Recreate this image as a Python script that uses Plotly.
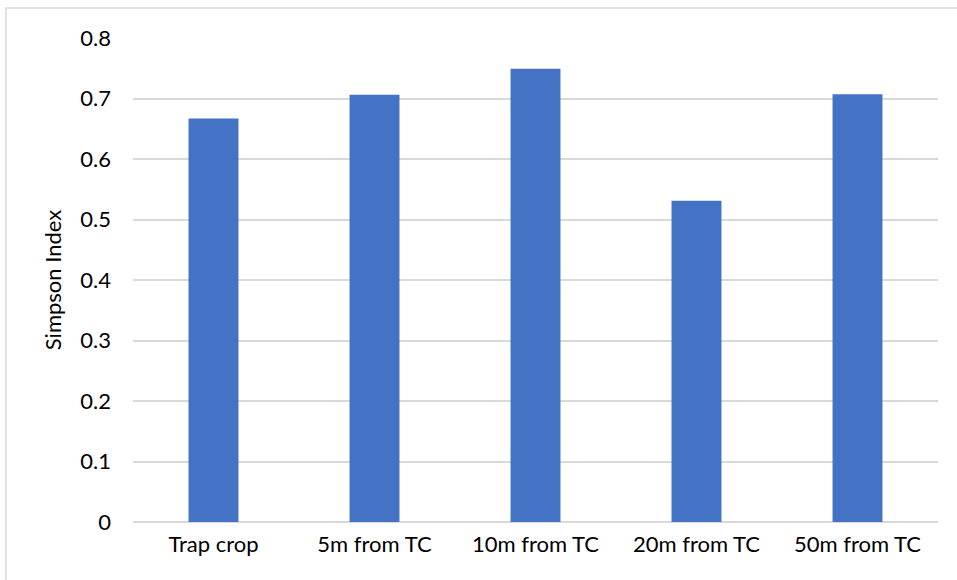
import plotly.graph_objects as go

categories = ["Trap crop", "5m from TC", "10m from TC", "20m from TC", "50m from TC"]
simpson_index = [0.667, 0.706, 0.749, 0.531, 0.707]
y_ticks = [0, 0.1, 0.2, 0.3, 0.4, 0.5, 0.6, 0.7, 0.8]
y_tick_labels = ["0", "0.1", "0.2", "0.3", "0.4", "0.5", "0.6", "0.7", "0.8"]

FONT = "Lato, 'Open Sans', sans-serif"
GRID = "#d9d9d9"
SIZE = 22

fig = go.Figure(
    go.Bar(
        x=categories,
        y=simpson_index,
        marker=dict(color="#4472C4", line=dict(width=0)),
    )
)

fig.update_layout(
    width=957,
    height=580,
    margin=dict(l=133, r=19, t=38, b=58),
    paper_bgcolor="white",
    plot_bgcolor="white",
    bargap=0.69,
    showlegend=False,
    font=dict(family=FONT, size=SIZE, color="#000000"),
    shapes=[
        # light frame around the whole chart
        dict(
            type="rect", xref="paper", yref="paper",
            x0=-0.1578, x1=1.05, y0=-0.16, y1=1.062,
            line=dict(color=GRID, width=1.5), layer="below",
        )
    ],
)

fig.update_xaxes(
    showgrid=False,
    showline=False,
    ticks="",
    ticklabelstandoff=7,
    tickfont=dict(family=FONT, size=SIZE),
)

fig.update_yaxes(
    range=[0, 0.8],
    tickvals=y_ticks,
    ticktext=y_tick_labels,
    showgrid=True,
    gridcolor=GRID,
    gridwidth=1.5,
    zeroline=True,
    zerolinecolor=GRID,
    zerolinewidth=1.5,
    showline=False,
    ticks="",
    ticklabelstandoff=21,
    tickfont=dict(family=FONT, size=SIZE),
    title=dict(text="Simpson Index", font=dict(family=FONT, size=SIZE), standoff=12),
)

fig.write_html("out.html")
